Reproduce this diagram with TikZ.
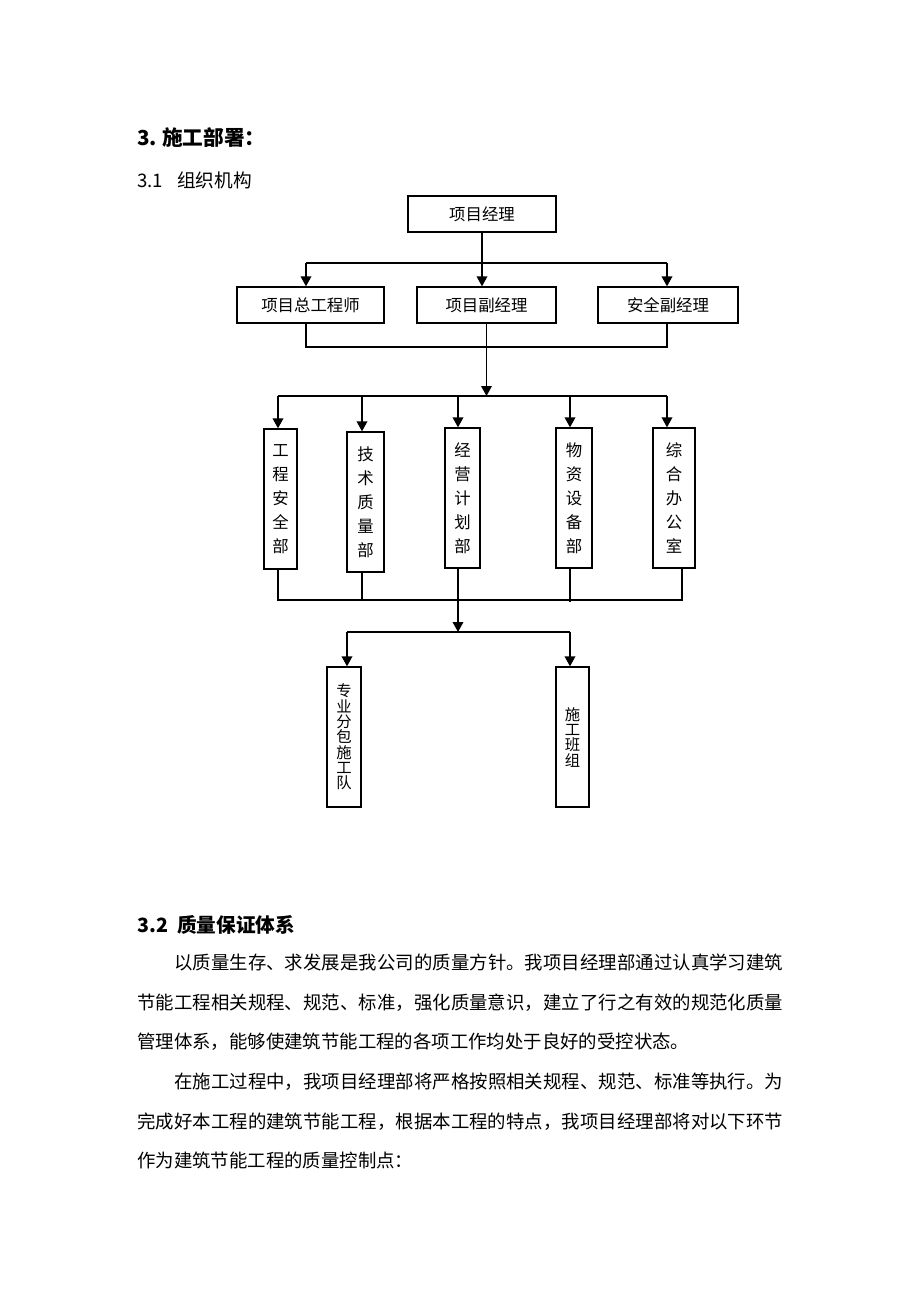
\documentclass[tikz,border=0pt]{standalone}
\usepackage{fontspec}
\usetikzlibrary{arrows.meta}
\newfontfamily\cjk{Noto Sans CJK SC}
\makeatletter
\def\jst#1{\jst@a#1\relax}
\def\jst@a#1#2{#1\ifx\relax#2\else\hfill\expandafter\jst@a\expandafter#2\fi}
\makeatother
\tikzset{
  box/.style={draw, line width=1pt, inner sep=0pt, minimum height=27pt, font=\cjk\fontsize{12.3}{14}\selectfont},
  vbox/.style={draw, line width=1pt, inner sep=0pt, minimum height=105pt, align=center, font=\cjk\fontsize{12.3}{18}\selectfont},
  sbox/.style={draw, line width=1pt, inner sep=0pt, minimum height=105pt, align=center, font=\cjk\fontsize{11.5}{11.5}\selectfont},
  arr/.style={-{Triangle[width=8pt,length=7.5pt]}, line width=1pt},
  ln/.style={line width=1pt},
  body/.style={anchor=base west, inner sep=0pt, font=\cjk\fontsize{13.8}{16}\selectfont},
}
\begin{document}
\begin{tikzpicture}[x=0.75pt, y=-0.75pt]
\useasboundingbox (0,0) rectangle (920,1302);
\fill[white] (0,0) rectangle (920,1302);

% headings
\node[anchor=base west, inner sep=0pt, font=\cjk\bfseries\fontsize{15.5}{18}\selectfont] (h3) at (137,146) {\makebox[18.75pt][l]{3.}施工部署：};
\node[anchor=base west, inner sep=0pt, font=\cjk\fontsize{14}{16}\selectfont] (h31) at (137,187) {\makebox[30pt][l]{3.1}组织机构};

% level 1
\node[box, minimum width=111pt] (pm) at (482,214) {项目经理};
% level 2
\node[box, minimum width=110.25pt] (zg) at (310.5,305) {项目总工程师};
\node[box, minimum width=104.25pt] (fj) at (486.5,305) {项目副经理};
\node[box, minimum width=105pt] (aq) at (668,305) {安全副经理};

\coordinate (t1) at (306,263);
\coordinate (t3) at (667,263);
\draw[ln] (t1) -- (t3);
\draw[arr] (pm.south) -- (pm.south |- fj.north);
\draw[arr] (t1) -- (t1 |- zg.north);
\draw[arr] (t3) -- (t3 |- aq.north);

\coordinate (b1) at (306,347);
\coordinate (b3) at (667,347);
\draw[ln] (b1 |- zg.south) -- (b1) -- (b3) -- (b3 |- aq.south);

% level 3
\node[vbox, minimum width=24.75pt] (d1) at (280.5,499) {工\\程\\安\\全\\部};
\node[vbox, minimum width=27.75pt] (d2) at (365.5,502) {技\\术\\质\\量\\部};
\node[vbox, minimum width=26.25pt] (d3) at (462.5,498) {经\\营\\计\\划\\部};
\node[vbox, minimum width=27pt] (d4) at (574,498) {物\\资\\设\\备\\部};
\node[vbox, minimum width=31.5pt] (d5) at (674,498) {综\\合\\办\\公\\室};

\coordinate (m2) at (486.5,396);
\coordinate (u1) at (278,396);
\coordinate (u2) at (362,396);
\coordinate (u3) at (458,396);
\coordinate (u4) at (570,397);
\coordinate (u5) at (667,396);
\draw[arr] (fj.south) -- (m2);
\draw[ln] (u1) -- (u5);
\draw[arr] (u1) -- (u1 |- d1.north);
\draw[arr] (u2) -- (u2 |- d2.north);
\draw[arr] (u3) -- (u3 |- d3.north);
\draw[arr] (u4) -- (u4 |- d4.north);
\draw[arr] (u5) -- (u5 |- d5.north);

\coordinate (v1) at (278,600);
\coordinate (v2) at (362,600);
\coordinate (v4) at (570,600);
\coordinate (v5) at (682,600);
\draw[ln] (v1 |- d1.south) -- (v1) -- (v5) -- (v5 |- d5.south);
\draw[ln] (v2 |- d2.south) -- (v2);
\draw[ln] (v4 |- d4.south) -- ([yshift=-1.5pt]v4);

% level 4
\node[sbox, minimum width=25.5pt] (s1) at (344,737) {专\\业\\分\\包\\施\\工\\队};
\node[sbox, minimum width=24.75pt] (s2) at (572.5,737) {施\\工\\班\\组};

\coordinate (w1) at (347,632);
\coordinate (w2) at (570,632);
\coordinate (w3) at (458,632);
\draw[arr] (w3 |- d3.south) -- (w3);
\draw[ln] (w1) -- (w2);
\draw[arr] (w1) -- (w1 |- s1.north);
\draw[arr] (w2) -- (w2 |- s2.north);

% section 3.2
\node[anchor=base west, inner sep=0pt, font=\cjk\bfseries\fontsize{14.75}{17}\selectfont] (h32) at (137,932) {\makebox[30pt][l]{3.2}质量保证体系};

\node[body] (l1) at (174,969) {\makebox[456.75pt]{\jst{以质量生存、求发展是我公司的质量方针。我项目经理部通过认真学习建筑}}};
\node[body] (l2) at (137,1009) {\makebox[484.5pt]{\jst{节能工程相关规程、规范、标准，强化质量意识，建立了行之有效的规范化质量}}};
\node[body] (l3) at (137,1048) {管理体系，能够使建筑节能工程的各项工作均处于良好的受控状态。};
\node[body] (l4) at (174,1088) {\makebox[456.75pt]{\jst{在施工过程中，我项目经理部将严格按照相关规程、规范、标准等执行。为}}};
\node[body] (l5) at (137,1128) {\makebox[484.5pt]{\jst{完成好本工程的建筑节能工程，根据本工程的特点，我项目经理部将对以下环节}}};
\node[body] (l6) at (137,1167) {作为建筑节能工程的质量控制点：};
\end{tikzpicture}
\end{document}
